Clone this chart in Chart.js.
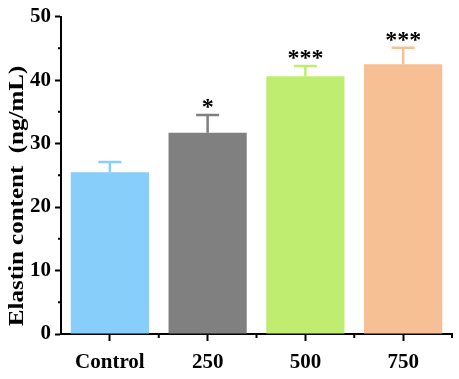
<!DOCTYPE html>
<html><head><meta charset="utf-8">
<script src="https://cdn.jsdelivr.net/npm/chart.js@4/dist/chart.umd.min.js"></script>
<style>html,body{margin:0;padding:0;background:#fff;}canvas{display:block;}</style>
</head><body>
<canvas id="c" width="459" height="379"></canvas>
<script>
const categories = ['Control', '250', '500', '750'];
const values = [25.5, 31.7, 40.6, 42.5];
const errors = [1.6, 2.8, 1.6, 2.6];
const significance = ['', '*', '***', '***'];
const yTicks = [0, 10, 20, 30, 40, 50];
const yMinorTicks = [5, 15, 25, 35, 45];
const barColors = ['#87cefa', '#808080', '#bfed70', '#f7bf94'];
const yTitle = 'Elastin content  (ng/mL)';

const FONT = "'Liberation Serif', 'Times New Roman', serif";

const extras = {
  id: 'extras',
  afterDatasetsDraw(chart) {
    const ctx = chart.ctx;
    const y = chart.scales.y, x = chart.scales.x;
    const meta = chart.getDatasetMeta(0);
    ctx.save();
    meta.data.forEach((bar, i) => {
      const top = y.getPixelForValue(values[i] + errors[i]);
      const base = y.getPixelForValue(values[i]);
      ctx.strokeStyle = barColors[i];
      ctx.lineWidth = 2.5;
      ctx.beginPath();
      ctx.moveTo(bar.x, base);
      ctx.lineTo(bar.x, top);
      ctx.moveTo(bar.x - 11.5, top);
      ctx.lineTo(bar.x + 11.5, top);
      ctx.stroke();
      if (significance[i]) {
        ctx.fillStyle = '#000';
        ctx.font = "bold 24px " + FONT;
        ctx.textAlign = 'center';
        ctx.textBaseline = 'alphabetic';
        ctx.fillText(significance[i], bar.x, top - 1);
      }
    });
    ctx.strokeStyle = '#000';
    ctx.lineWidth = 2;
    ctx.beginPath();
    yMinorTicks.forEach(v => {
      const py = y.getPixelForValue(v);
      ctx.moveTo(y.right - 3, py);
      ctx.lineTo(y.right, py);
    });
    const n = categories.length;
    for (let k = 1; k <= n; k++) {
      const px = x.getPixelForValue(k - 0.5);
      ctx.moveTo(px, x.top);
      ctx.lineTo(px, x.top + 4);
    }
    ctx.stroke();
    ctx.fillStyle = '#000';
    ctx.font = "bold 25px " + FONT;
    ctx.textAlign = 'center';
    ctx.textBaseline = 'middle';
    ctx.translate(17, 196);
    ctx.rotate(-Math.PI / 2);
    ctx.scale(1, 0.88);
    ctx.fillText(yTitle, 0, 0);
    ctx.restore();
  }
};

new Chart(document.getElementById('c'), {
  type: 'bar',
  data: {
    labels: categories,
    datasets: [{
      data: values,
      backgroundColor: barColors,
      borderWidth: 0,
      barPercentage: 0.8,
      categoryPercentage: 1.0
    }]
  },
  options: {
    responsive: false,
    animation: false,
    devicePixelRatio: 1,
    layout: { padding: { top: 14, right: 7, left: 0, bottom: 0 } },
    plugins: { legend: { display: false }, tooltip: { enabled: false } },
    scales: {
      x: {
        offset: true,
        grid: { offset: false, drawOnChartArea: false, drawTicks: true, tickLength: 7, tickWidth: 2, tickColor: '#000' },
        border: { color: '#000', width: 2 },
        ticks: { color: '#000', font: { family: FONT, size: 21, weight: 'bold' }, padding: 9, maxRotation: 0 },
        afterFit(s) { s.height = 45; }
      },
      y: {
        min: 0, max: 50,
        afterBuildTicks(s) { s.ticks = yTicks.map(v => ({ value: v })); },
        grid: { drawOnChartArea: false, drawTicks: true, tickLength: 6, tickWidth: 2, tickColor: '#000' },
        border: { color: '#000', width: 2 },
        ticks: { color: '#000', font: { family: FONT, size: 21, weight: 'bold' }, padding: 4 },
        afterFit(s) { s.width = 61; }
      }
    }
  },
  plugins: [extras]
});
</script>
</body></html>
